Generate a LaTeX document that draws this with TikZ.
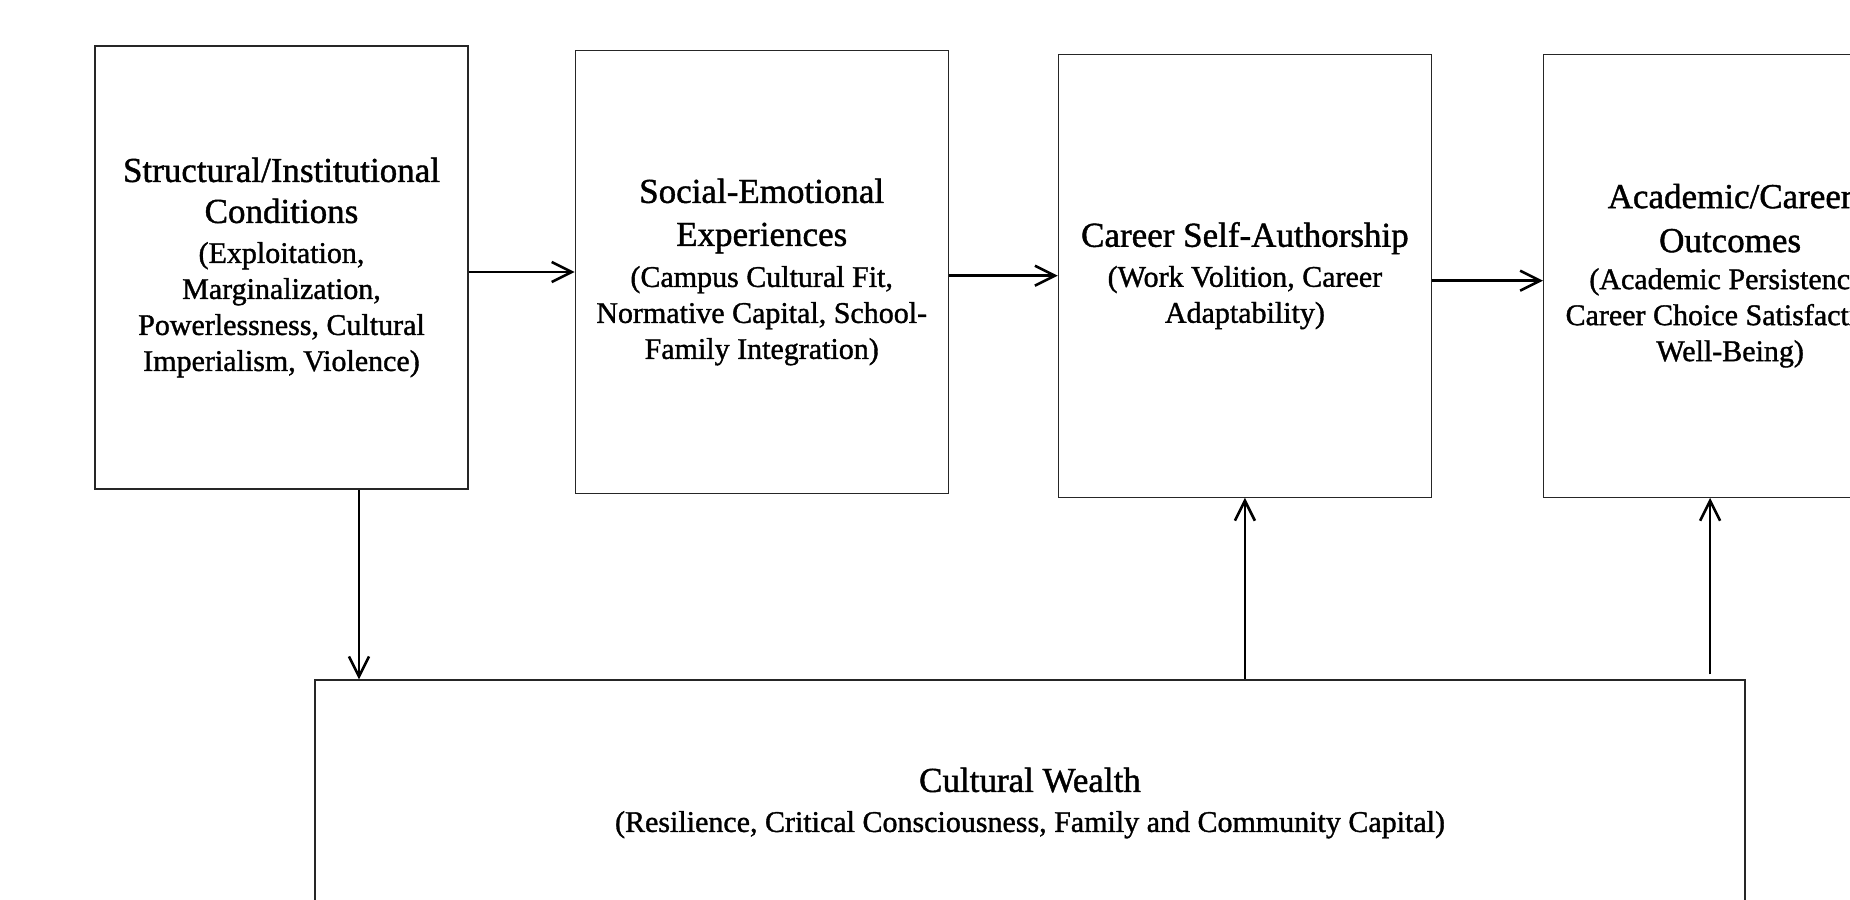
\documentclass[tikz,border=0pt]{standalone}
\usepackage{fontspec}
\setmainfont{Liberation Serif}[FakeBold=1.2]
\usepackage{tikz}
\usetikzlibrary{arrows.meta, positioning}
\newcommand{\headfont}{\fontsize{17.5}{21}\selectfont}
\newcommand{\subfont}{\fontsize{15}{18}\selectfont}

\begin{document}
\begin{tikzpicture}[
  box/.style={rectangle, draw=black!85, line width=0.6pt,
              minimum width=186.5pt, minimum height=221.5pt,
              align=center, font=\subfont, inner sep=0pt},
  arrow/.style={-{Straight Barb[length=10pt, width=10pt, line width=1.3pt]}, line width=1.2pt},
  node distance=52pt
]

\clip (0,0) rectangle (925pt,449.5pt);

\node[box] (cond) at (140.75pt,315.75pt)
  {{\headfont Structural/Institutional}\\[2.5pt]{\headfont Conditions}\\[2pt]
   (Exploitation,\\Marginalization,\\Powerlessness, Cultural\\Imperialism, Violence)};
\node[box, right=53pt of cond, yshift=-2.25pt] (social)
  {{\headfont Social-Emotional}\\[3.5pt]{\headfont Experiences}\\[2.5pt]
   (Campus Cultural Fit,\\Normative Capital, School-\\Family Integration)};
\node[box, right=54.5pt of social, yshift=-1.85pt] (selfauth)
  {{\headfont Career Self-Authorship}\\[2pt]
   (Work Volition, Career\\Adaptability)};
\node[box, right=55.5pt of selfauth] (outcome)
  {{\headfont Academic/Career}\\[4pt]{\headfont Outcomes}\\[0.5pt]
   (Academic Persistence,\\Career Choice Satisfaction,\\Well-Being)};

\node[box, minimum width=715pt, minimum height=123pt] (wealth) at (515pt,48pt)
  {{\headfont Cultural Wealth}\\[2pt]
   (Resilience, Critical Consciousness, Family and Community Capital)};

\draw[arrow] (cond.east |- social.west) -- (social.west);
\draw[arrow] (social.east |- selfauth.west) -- (selfauth.west);
\draw[arrow] ([yshift=-2.5pt]selfauth.east) -- ([yshift=-2.5pt]outcome.west);

% links with the cultural wealth box
\draw[arrow] ([xshift=38.75pt]cond.south) -- ([xshift=38.75pt]cond.south |- wealth.north);
\draw[arrow] (selfauth.south |- wealth.north) -- (selfauth.south);
\draw[arrow] ([xshift=-10pt,yshift=2.5pt]outcome.south |- wealth.north) -- ([xshift=-10pt]outcome.south);

\end{tikzpicture}
\end{document}
